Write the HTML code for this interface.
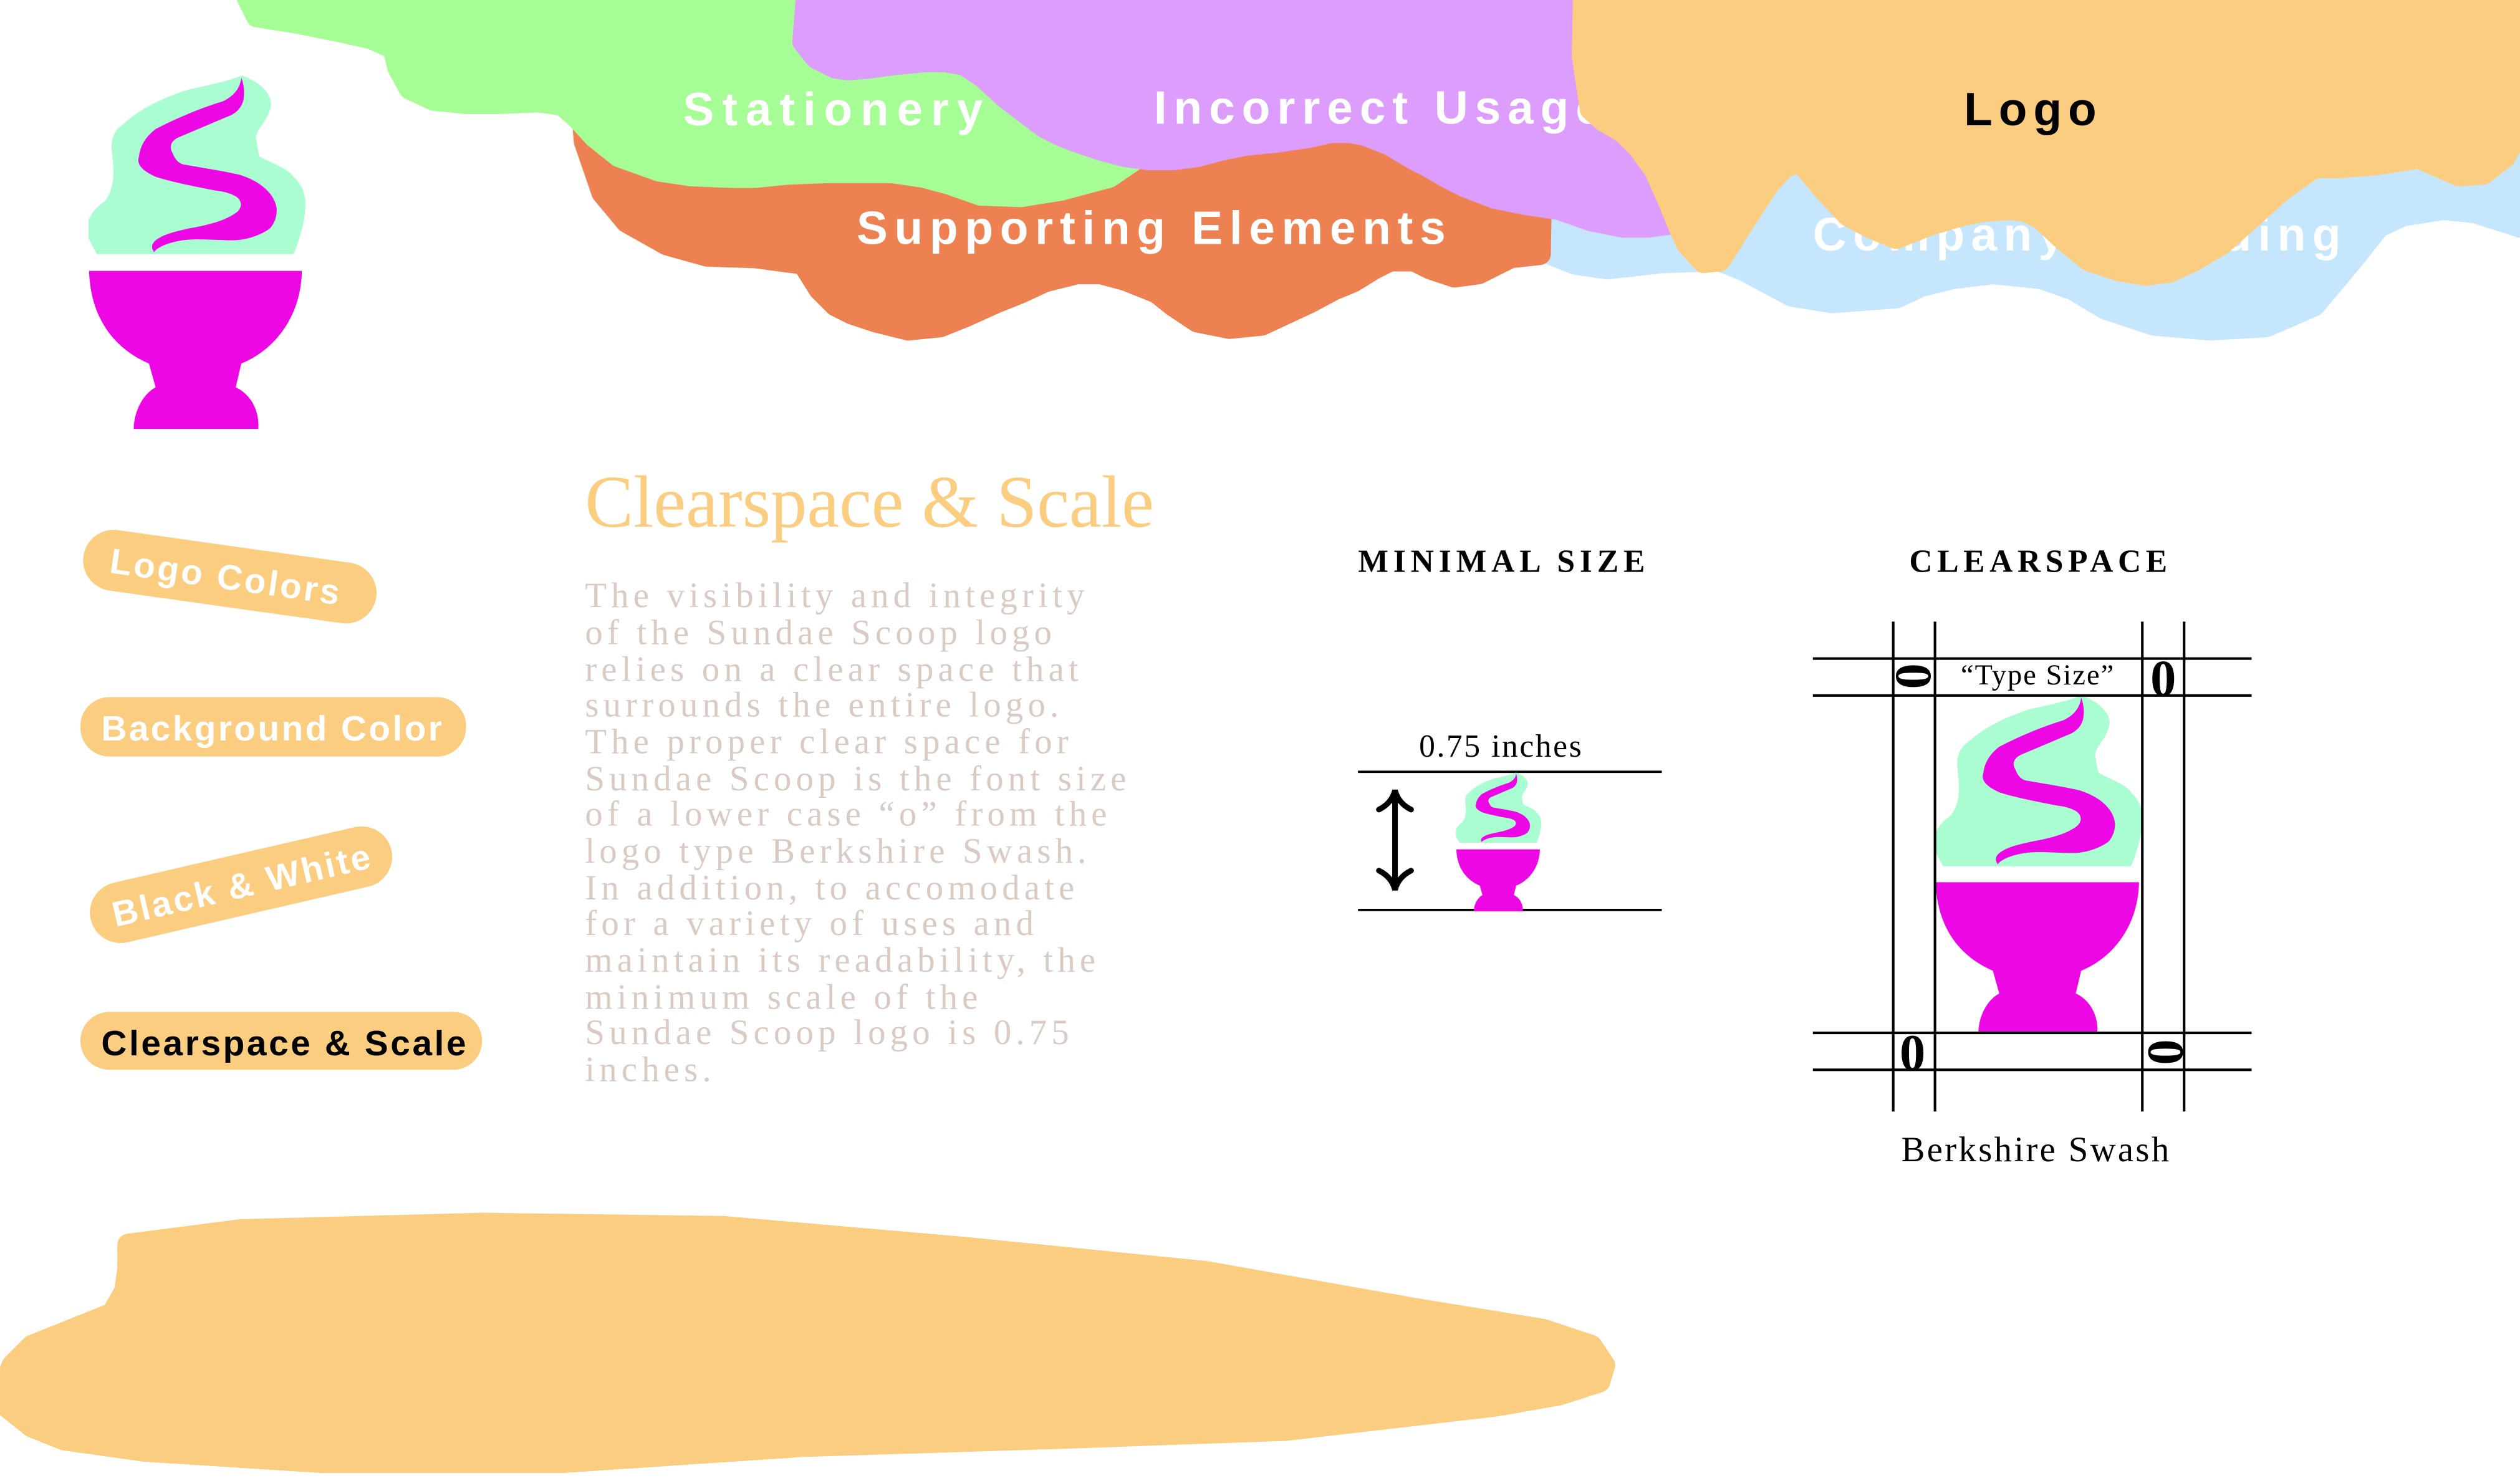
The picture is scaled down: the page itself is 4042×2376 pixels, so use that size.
<!DOCTYPE html>
<html><head><meta charset="utf-8"><style>
html,body{margin:0;padding:0;background:#fff;}
svg{display:block;}
.nav{font-family:"Liberation Sans",sans-serif;font-weight:bold;font-size:29px;fill:#fff;letter-spacing:1.5px;}
.pill{font-family:"Liberation Sans",sans-serif;font-weight:bold;font-size:22px;fill:#fff;}
.para{font-family:"Liberation Serif",serif;font-size:22px;fill:#d9cbc3;letter-spacing:2.8px;}
.hd{font-family:"Liberation Serif",serif;font-weight:bold;font-size:20px;fill:#000;letter-spacing:1.5px;}
.ser{font-family:"Liberation Serif",serif;fill:#000;}
</style></head><body>
<svg width="4042" height="2376" viewBox="0 0 1568 922" preserveAspectRatio="none" xmlns="http://www.w3.org/2000/svg">
<defs>
<g id="logo">
<path fill="#aafdd1" d="M70.5,0 C80,3 86,10 83.7,15.6 C82,22 76,26 77.5,30 C78,35 79,37 79,37.5 C86,41 92,43 94.6,46.7 C99,51 100,55 100,59.5 C100,68 97,76 94.6,82.4 L3.9,82.4 L0,75 L0,66.8 C2,62 5,60 7.8,57.7 C12,52 12,45 10.9,35.7 C10,30 12,25 15.5,22.9 C25,14 38,9 46.5,6.4 C58,4 66,2 70.5,0 Z"/>
<path fill="#ee07e5" d="M70.5,1 C72,5 72,9 71.3,11.9 C70,16 67,18 63.6,19.2 L41.9,28.4 C38,30 37,33 38.8,35.7 C40,39 42,41 45,41.2 C55,43 62,44 69.8,45.8 C80,49 86,55 86.8,61.4 C87,66 85,69 83.7,70.5 C79,74 72,76 66.7,76 C58,76 50,75 43.4,76 C37,77 32,79 30.2,81.5 L29.5,80 C29,78 30,77 31,76 C35,73 40,72 46.5,70.5 C55,69 63,67 68.2,63.2 C71,61 71,58 68.2,55.9 C65,54 62,53.5 58.9,53.1 C48,51 38,49 31,46.7 C25,44 22,41 23.3,37.5 C24,31 28,27 31,24.7 C42,19 52,15 62,11.9 C68,9 70,5 70.5,1 Z"/>
<path fill="#ee07e5" d="M0.3,90.1 L98.4,90.1 C98,112 85,127 70.5,132.8 L67.9,143.8 C75,147 79,155 78.3,163 L20.9,163 C21,155 25,147 31,143.8 L27.9,132.8 C12,126 1,112 0.3,90.1 Z"/>
</g>
</defs>

<g stroke-linejoin="round" stroke-width="14">
<polygon fill="#c6e6fe" stroke="#c6e6fe" points="940,-30 1600,-30 1600,141 1568,141 1540,132 1520,130 1495,134 1480,141 1465,160 1440,190 1410,203 1375,205 1340,202 1310,192 1290,180 1270,173 1240,170 1215,173 1195,178 1180,185 1140,188 1115,184 1100,176 1085,168 1070,162 1035,163 1000,167 980,164 965,158 950,145 942,127 938,60"/>
<polygon fill="#ee8152" stroke="#ee8152" points="360,40 960,40 958,158 940,160 920,170 905,172 890,167 880,162 865,162 855,167 842,175 830,180 815,188 800,195 785,202 765,204 745,200 730,190 720,182 700,174 685,170 670,170 650,175 635,182 620,188 600,197 585,203 565,205 545,200 530,195 520,190 510,180 500,164 470,160 440,159 415,152 390,138 375,120 364,88"/>
<polygon fill="#a6fd96" stroke="#a6fd96" points="145,-20 700,-20 712,95 690,110 660,118 635,122 610,121 590,114 575,110 555,107 540,107 515,107 490,108 470,110 455,110 430,109 410,106 385,97 370,85 360,74 350,65 335,63 310,64 290,64 270,62 255,55 248,42 245,30 232,24 215,20 185,14 160,10"/>
<polygon fill="#dd9dfd" stroke="#dd9dfd" points="510,-20 1000,-20 1010,80 1040,139 1025,141 1010,141 990,137 970,130 950,127 930,123 912,116 900,110 888,103 880,99 865,90 850,84 840,82 828,82 815,85 795,88 775,90 760,93 745,97 730,99 715,99 700,97 685,93 670,88 660,84 650,79 638,70 625,60 612,48 600,40 588,38 575,38 555,40 540,42 528,43 520,42 508,36 500,26 502,0"/>
</g>

<g>
<text class="nav" x="425" y="78" textLength="188">Stationery</text>
<text class="nav" x="718" y="77" textLength="280">Incorrect Usage</text>
<text class="nav" x="533" y="152" textLength="368">Supporting Elements</text>
<text class="nav" x="1128" y="156" textLength="330">Company Branding</text>
</g>
<polygon fill="#facd80" stroke="#facd80" stroke-width="14" stroke-linejoin="round" points="986,-20 1600,-20 1568,81 1558,98 1545,108 1530,109 1505,98 1480,102 1455,104 1440,104 1420,118 1400,136 1382,152 1365,162 1350,169 1335,171 1318,168 1300,162 1285,150 1270,136 1260,131 1250,130 1235,131 1220,134 1200,140 1180,148 1165,142 1150,134 1135,118 1120,100 1110,104 1100,115 1085,138 1070,162 1060,163 1050,152 1045,141 1038,124 1030,106 1020,92 1010,82 998,75 990,68 985,35"/>
<text class="nav" x="1222" y="78" textLength="84" style="fill:#000">Logo</text>

<g transform="translate(55,47) scale(1.35)"><use href="#logo"/></g>

<g>
<g transform="rotate(8 143 359)">
<rect x="51" y="340" width="184" height="38" rx="19" fill="#facd80"/>
<text class="pill" x="68" y="367" textLength="144">Logo Colors</text></g>
<g>
<rect x="50" y="434" width="240" height="37" rx="18" fill="#facd80"/>
<text class="pill" x="63" y="461" textLength="212">Background Color</text></g>
<g transform="rotate(-13 149 551)">
<rect x="54" y="532" width="192" height="38" rx="19" fill="#facd80"/>
<text class="pill" x="68" y="559" textLength="164">Black &amp; White</text></g>
<g>
<rect x="50" y="630" width="250" height="36" rx="18" fill="#facd80"/>
<text class="pill" x="63" y="657" textLength="227" style="fill:#000">Clearspace &amp; Scale</text></g>
</g>

<text x="364" y="328" textLength="354" lengthAdjust="spacingAndGlyphs" style="font-family:'Liberation Serif',serif;font-size:46px;fill:#facd80">Clearspace &amp; Scale</text>

<g class="para">
<text x="364" y="378">The visibility and integrity</text>
<text x="364" y="401">of the Sundae Scoop logo</text>
<text x="364" y="424">relies on a clear space that</text>
<text x="364" y="446">surrounds the entire logo.</text>
<text x="364" y="469">The proper clear space for</text>
<text x="364" y="492">Sundae Scoop is the font size</text>
<text x="364" y="514">of a lower case “o” from the</text>
<text x="364" y="537">logo type Berkshire Swash.</text>
<text x="364" y="560">In addition, to accomodate</text>
<text x="364" y="582">for a variety of uses and</text>
<text x="364" y="605">maintain its readability, the</text>
<text x="364" y="628">minimum scale of the</text>
<text x="364" y="650">Sundae Scoop logo is 0.75</text>
<text x="364" y="673">inches.</text>
</g>

<g>
<text class="hd" x="845" y="356" textLength="180">MINIMAL SIZE</text>
<text class="ser" x="934" y="471" text-anchor="middle" font-size="20" letter-spacing="1">0.75 inches</text>
<line x1="845" y1="480.5" x2="1034" y2="480.5" stroke="#000" stroke-width="1.5"/>
<line x1="845" y1="566.5" x2="1034" y2="566.5" stroke="#000" stroke-width="1.5"/>
<path d="M868,494 V552 M858,504 Q866,500 868,492 Q870,500 878,504 M858,542 Q866,546 868,554 Q870,546 878,542" fill="none" stroke="#000" stroke-width="3.5" stroke-linecap="round"/>
<g transform="translate(906,481) scale(0.53)"><use href="#logo"/></g>
</g>

<g>
<text class="hd" x="1188" y="356" textLength="162">CLEARSPACE</text>
<g transform="translate(1204,433) scale(1.29)"><use href="#logo"/></g>
<g stroke="#000" stroke-width="1.6">
<line x1="1178" y1="387" x2="1178" y2="692"/><line x1="1204" y1="387" x2="1204" y2="692"/>
<line x1="1333" y1="387" x2="1333" y2="692"/><line x1="1359" y1="387" x2="1359" y2="692"/>
<line x1="1128" y1="410" x2="1401" y2="410"/><line x1="1128" y1="433" x2="1401" y2="433"/>
<line x1="1128" y1="643" x2="1401" y2="643"/><line x1="1128" y1="666" x2="1401" y2="666"/>
</g>
<g class="ser" font-weight="bold" font-size="32">
<text x="1191" y="432" text-anchor="middle" transform="rotate(90 1191 421)">0</text>
<text x="1346" y="433" text-anchor="middle">0</text>
<text x="1190" y="666" text-anchor="middle">0</text>
<text x="1347" y="665" text-anchor="middle" transform="rotate(90 1347 655)">0</text>
</g>
<text class="ser" x="1268" y="426" text-anchor="middle" font-size="18" letter-spacing="0.8">“Type Size”</text>
<text class="ser" x="1267" y="723" text-anchor="middle" font-size="22" letter-spacing="1.3">Berkshire Swash</text>
</g>

<polygon fill="#facd80" stroke="#facd80" stroke-width="14" stroke-linejoin="round" points="80,775 150,766 300,762 450,764 600,777 750,792 880,815 960,828 990,838 998,850 995,860 970,868 930,875 800,890 660,895 500,900 350,910 200,910 90,903 40,896 20,888 5,876 2,865 8,850 20,838 45,828 70,818 78,804 80,790"/>
</svg>
</body></html>
